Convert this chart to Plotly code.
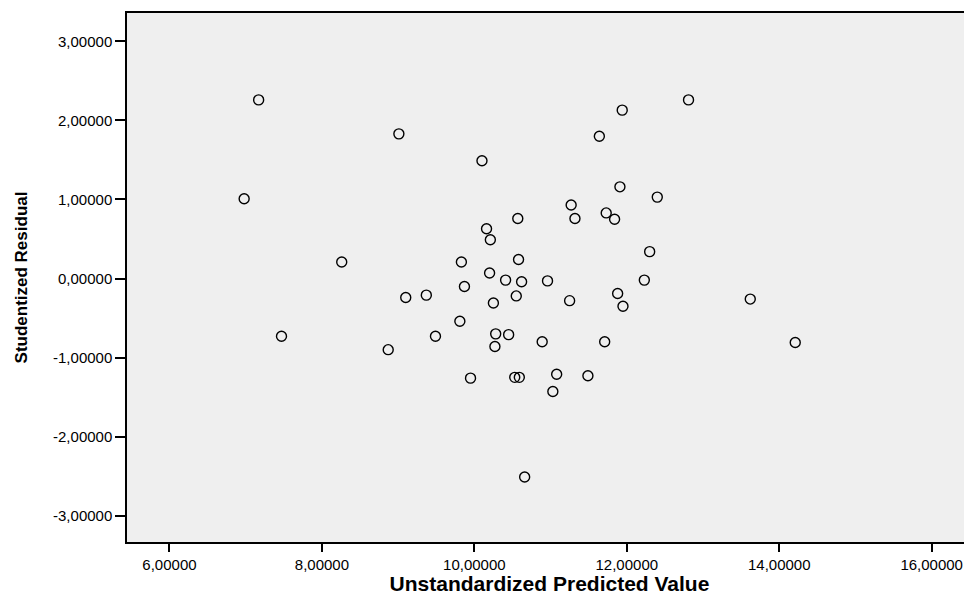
import plotly.graph_objects as go

# Unstandardized predicted values (x) and studentized residuals (y)
predicted = [7.17, 9.01, 10.10, 6.98, 10.16, 10.21, 8.26, 9.83, 10.20, 9.87,
             9.10, 9.37, 12.81, 11.94, 11.64, 11.91, 12.40, 11.27, 11.73, 11.32,
             11.84, 10.57, 12.30, 10.58, 10.41, 10.62, 10.96, 12.23, 10.55, 11.25,
             11.88, 13.62, 11.95, 10.45, 10.27, 10.89, 11.71, 14.21, 10.53, 10.59,
             11.08, 11.49, 11.03, 10.66, 10.25, 9.81, 7.47, 9.49, 10.28, 8.87, 9.95]
residual = [2.26, 1.83, 1.49, 1.01, 0.63, 0.49, 0.21, 0.21, 0.07, -0.10,
            -0.24, -0.21, 2.26, 2.13, 1.80, 1.16, 1.03, 0.93, 0.83, 0.76,
            0.75, 0.76, 0.34, 0.24, -0.02, -0.04, -0.03, -0.02, -0.22, -0.28,
            -0.19, -0.26, -0.35, -0.71, -0.86, -0.80, -0.80, -0.81, -1.25, -1.25,
            -1.21, -1.23, -1.43, -2.51, -0.31, -0.54, -0.73, -0.73, -0.70, -0.90, -1.26]

x_tickvals = [6, 8, 10, 12, 14, 16]
x_ticktext = ["6,00000", "8,00000", "10,00000", "12,00000", "14,00000", "16,00000"]
y_tickvals = [3, 2, 1, 0, -1, -2, -3]
y_ticktext = ["3,00000", "2,00000", "1,00000", "0,00000", "-1,00000", "-2,00000", "-3,00000"]

x_title = "Unstandardized Predicted Value"
y_title = "Studentized Residual"

fig = go.Figure()
fig.add_trace(go.Scatter(
    x=predicted, y=residual, mode="markers",
    marker=dict(symbol="circle-open", size=10, color="black",
                line=dict(width=1.4, color="black")),
    showlegend=False, hoverinfo="x+y",
))

FONT = "Liberation Sans, Arial, sans-serif"
tick_font = dict(family=FONT, size=15, color="black")

fig.update_layout(
    width=972, height=595,
    margin=dict(l=127, r=0, t=13, b=53, autoexpand=False),
    paper_bgcolor="white",
    plot_bgcolor="#efefef",
    xaxis=dict(
        range=[5.443, 16.529],
        tickvals=x_tickvals, ticktext=x_ticktext,
        ticks="outside", ticklen=8, tickwidth=1.5, tickcolor="black",
        showgrid=False, zeroline=False,
        showline=True, linecolor="black", linewidth=1.5, mirror=True,
        tickfont=tick_font,
        title=dict(text=x_title, standoff=6,
                   font=dict(family=FONT, size=21, color="black", weight="bold")),
        automargin=False,
    ),
    yaxis=dict(
        range=[-3.333, 3.359],
        tickvals=y_tickvals, ticktext=y_ticktext,
        ticks="outside", ticklen=10, tickwidth=1.5, tickcolor="black",
        showgrid=False, zeroline=False,
        showline=True, linecolor="black", linewidth=1.5, mirror=False,
        tickfont=tick_font,
        title=dict(text=y_title, standoff=21,
                   font=dict(family=FONT, size=17, color="black", weight="bold")),
        automargin=False,
    ),
)

fig.write_html("out.html",
               config={"displayModeBar": False},
               post_script="document.body.style.margin='0';document.body.style.overflow='hidden';")
